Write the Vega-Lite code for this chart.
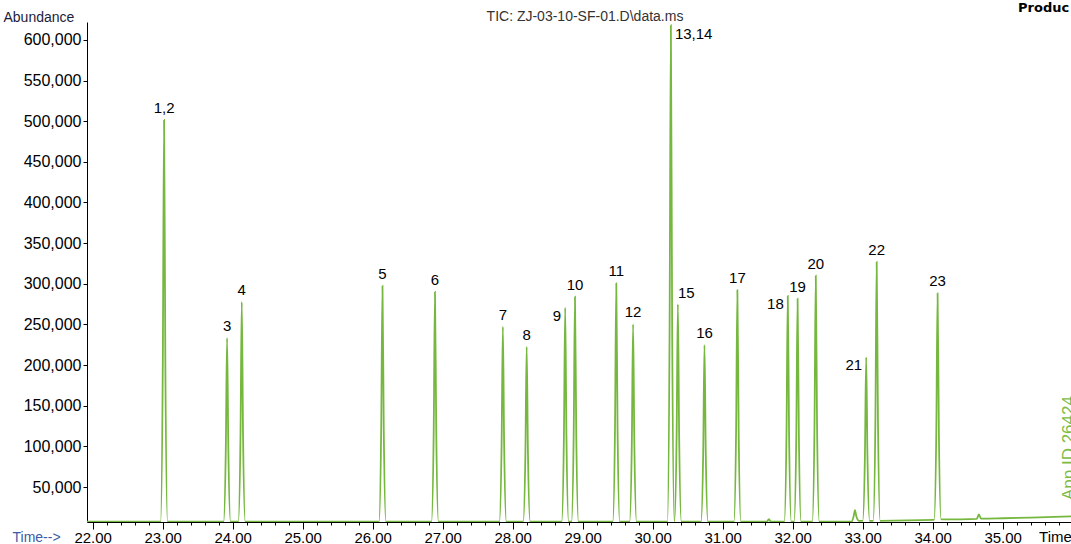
{
  "$schema": "https://vega.github.io/schema/vega-lite/v6.json",
  "width": 984,
  "height": 500,
  "autosize": {"type": "none"},
  "padding": {"left": 87, "top": 22, "right": 0, "bottom": 22},
  "background": "white",
  "config": {"view": {"stroke": null}, "font": "Liberation Sans"},
  "datasets": {
    "tic": [
      {"time": 21.92, "abundance": 7300},
      {"time": 22.97, "abundance": 7300},
      {"time": 23.002, "abundance": 205000},
      {"time": 23.02, "abundance": 501500},
      {"time": 23.038, "abundance": 205000},
      {"time": 23.07, "abundance": 7300},
      {"time": 23.87, "abundance": 7300},
      {"time": 23.902, "abundance": 97700},
      {"time": 23.92, "abundance": 233300},
      {"time": 23.938, "abundance": 97700},
      {"time": 23.97, "abundance": 7300},
      {"time": 24.08, "abundance": 7300},
      {"time": 24.112, "abundance": 115400},
      {"time": 24.13, "abundance": 277600},
      {"time": 24.148, "abundance": 115400},
      {"time": 24.18, "abundance": 7300},
      {"time": 26.09, "abundance": 7300},
      {"time": 26.122, "abundance": 123300},
      {"time": 26.14, "abundance": 297300},
      {"time": 26.158, "abundance": 123300},
      {"time": 26.19, "abundance": 7300},
      {"time": 26.84, "abundance": 7300},
      {"time": 26.872, "abundance": 120300},
      {"time": 26.89, "abundance": 289900},
      {"time": 26.908, "abundance": 120300},
      {"time": 26.94, "abundance": 7300},
      {"time": 27.81, "abundance": 7300},
      {"time": 27.842, "abundance": 103300},
      {"time": 27.86, "abundance": 247200},
      {"time": 27.878, "abundance": 103300},
      {"time": 27.91, "abundance": 7300},
      {"time": 28.15, "abundance": 7300},
      {"time": 28.182, "abundance": 93400},
      {"time": 28.2, "abundance": 222600},
      {"time": 28.218, "abundance": 93400},
      {"time": 28.25, "abundance": 7300},
      {"time": 28.7, "abundance": 7300},
      {"time": 28.732, "abundance": 112600},
      {"time": 28.75, "abundance": 270600},
      {"time": 28.768, "abundance": 112600},
      {"time": 28.8, "abundance": 7300},
      {"time": 28.84, "abundance": 7300},
      {"time": 28.872, "abundance": 118000},
      {"time": 28.89, "abundance": 284100},
      {"time": 28.908, "abundance": 118000},
      {"time": 28.94, "abundance": 7300},
      {"time": 29.43, "abundance": 7300},
      {"time": 29.462, "abundance": 124600},
      {"time": 29.48, "abundance": 300600},
      {"time": 29.498, "abundance": 124600},
      {"time": 29.53, "abundance": 7300},
      {"time": 29.67, "abundance": 7300},
      {"time": 29.702, "abundance": 104400},
      {"time": 29.72, "abundance": 250100},
      {"time": 29.738, "abundance": 104400},
      {"time": 29.77, "abundance": 7300},
      {"time": 30.21, "abundance": 7300},
      {"time": 30.242, "abundance": 251600},
      {"time": 30.26, "abundance": 618000},
      {"time": 30.278, "abundance": 251600},
      {"time": 30.31, "abundance": 7400},
      {"time": 30.342, "abundance": 114300},
      {"time": 30.36, "abundance": 274700},
      {"time": 30.378, "abundance": 114300},
      {"time": 30.41, "abundance": 7300},
      {"time": 30.69, "abundance": 7300},
      {"time": 30.722, "abundance": 94300},
      {"time": 30.74, "abundance": 224700},
      {"time": 30.758, "abundance": 94300},
      {"time": 30.79, "abundance": 7300},
      {"time": 31.16, "abundance": 7300},
      {"time": 31.192, "abundance": 121300},
      {"time": 31.21, "abundance": 292300},
      {"time": 31.228, "abundance": 121300},
      {"time": 31.26, "abundance": 7300},
      {"time": 31.63, "abundance": 7300},
      {"time": 31.66, "abundance": 10500},
      {"time": 31.69, "abundance": 7300},
      {"time": 31.88, "abundance": 7300},
      {"time": 31.912, "abundance": 118400},
      {"time": 31.93, "abundance": 285000},
      {"time": 31.948, "abundance": 118400},
      {"time": 31.98, "abundance": 7300},
      {"time": 32.02, "abundance": 7300},
      {"time": 32.052, "abundance": 117000},
      {"time": 32.07, "abundance": 281600},
      {"time": 32.088, "abundance": 117000},
      {"time": 32.12, "abundance": 7300},
      {"time": 32.28, "abundance": 7300},
      {"time": 32.312, "abundance": 128300},
      {"time": 32.33, "abundance": 309900},
      {"time": 32.348, "abundance": 128300},
      {"time": 32.38, "abundance": 7300},
      {"time": 32.84, "abundance": 7300},
      {"time": 32.872, "abundance": 14500},
      {"time": 32.89, "abundance": 21700},
      {"time": 32.908, "abundance": 14500},
      {"time": 32.95, "abundance": 8500},
      {"time": 33.0, "abundance": 8500},
      {"time": 33.032, "abundance": 88900},
      {"time": 33.05, "abundance": 209500},
      {"time": 33.068, "abundance": 88900},
      {"time": 33.1, "abundance": 8500},
      {"time": 33.15, "abundance": 8500},
      {"time": 33.182, "abundance": 135800},
      {"time": 33.2, "abundance": 326800},
      {"time": 33.218, "abundance": 135800},
      {"time": 33.25, "abundance": 8500},
      {"time": 34.02, "abundance": 9500},
      {"time": 34.052, "abundance": 121000},
      {"time": 34.07, "abundance": 288300},
      {"time": 34.088, "abundance": 121000},
      {"time": 34.12, "abundance": 10200},
      {"time": 34.4, "abundance": 10300},
      {"time": 34.63, "abundance": 10800},
      {"time": 34.66, "abundance": 16400},
      {"time": 34.69, "abundance": 11200},
      {"time": 35.0, "abundance": 11600},
      {"time": 35.4, "abundance": 12400},
      {"time": 35.976, "abundance": 14000}
    ],
    "peaks": [
      {"label": "1,2", "time": 23.02, "abundance": 501500},
      {"label": "3", "time": 23.92, "abundance": 233300},
      {"label": "4", "time": 24.13, "abundance": 277600},
      {"label": "5", "time": 26.14, "abundance": 297300},
      {"label": "6", "time": 26.89, "abundance": 289900},
      {"label": "7", "time": 27.86, "abundance": 247200},
      {"label": "8", "time": 28.2, "abundance": 222600},
      {"label": "9", "time": 28.75, "abundance": 270600},
      {"label": "10", "time": 28.89, "abundance": 284100},
      {"label": "11", "time": 29.48, "abundance": 300600},
      {"label": "12", "time": 29.72, "abundance": 250100},
      {"label": "13,14", "time": 30.26, "abundance": 618000},
      {"label": "15", "time": 30.36, "abundance": 274700},
      {"label": "16", "time": 30.74, "abundance": 224700},
      {"label": "17", "time": 31.21, "abundance": 292300},
      {"label": "18", "time": 31.93, "abundance": 285000},
      {"label": "19", "time": 32.07, "abundance": 281600},
      {"label": "20", "time": 32.33, "abundance": 309900},
      {"label": "21", "time": 33.05, "abundance": 209500},
      {"label": "22", "time": 33.2, "abundance": 326800},
      {"label": "23", "time": 34.07, "abundance": 288300}
    ]
  },
  "resolve": {"axis": {"x": "independent", "y": "independent"}},
  "layer": [
    {
      "data": {"name": "tic"},
      "mark": {"type": "line", "color": "#76b83f", "strokeWidth": 1.8, "interpolate": "monotone", "clip": true},
      "encoding": {
        "x": {"field": "time", "type": "quantitative", "scale": {"domain": [21.919, 35.976], "nice": false, "zero": false},
          "axis": {"orient": "bottom", "values": [22, 23, 24, 25, 26, 27, 28, 29, 30, 31, 32, 33, 34, 35], "format": ".2f", "grid": false,
            "labelFont": "Liberation Sans", "labelFontSize": 15, "labelColor": "#000000", "labelPadding": 1, "labelFlush": false, "labelOverlap": false,
            "tickSize": 7, "tickColor": "#000000", "domainColor": "#000000",
            "title": "Time-->", "titleX": -75, "titleY": 15, "titleAlign": "left", "titleBaseline": "middle", "titleFontSize": 14, "titleFontWeight": "normal", "titleColor": "#3a5ca8", "titleFont": "Liberation Sans"}},
        "y": {"field": "abundance", "type": "quantitative", "scale": {"domain": [7000, 622000], "nice": false, "zero": false},
          "axis": {"orient": "left", "values": [50000, 100000, 150000, 200000, 250000, 300000, 350000, 400000, 450000, 500000, 550000, 600000], "format": ",d", "grid": false,
            "labelFont": "Liberation Sans", "labelFontSize": 16, "labelColor": "#000000", "labelPadding": 2, "labelFlush": false, "labelOverlap": false,
            "tickSize": 4, "tickColor": "#000000", "domainColor": "#000000",
            "title": "Abundance", "titleAngle": 0, "titleX": -84, "titleY": -5, "titleAlign": "left", "titleBaseline": "middle", "titleFontSize": 14, "titleFontWeight": "normal", "titleColor": "#1c1c3c", "titleFont": "Liberation Sans"}}
      }
    },
    {
      "data": {"name": "peaks"},
      "transform": [{"filter": "indexof(['9','18','21','13,14','15'], datum.label) < 0"}],
      "mark": {"type": "text", "align": "center", "baseline": "middle", "dy": -12, "fontSize": 15, "color": "#000000", "font": "Liberation Sans"},
      "encoding": {
        "x": {"field": "time", "type": "quantitative",
          "axis": {"orient": "bottom", "values": [22.2, 22.4, 22.6, 22.8, 23.2, 23.4, 23.6, 23.8, 24.2, 24.4, 24.6, 24.8, 25.2, 25.4, 25.6, 25.8, 26.2, 26.4, 26.6, 26.8, 27.2, 27.4, 27.6, 27.8, 28.2, 28.4, 28.6, 28.8, 29.2, 29.4, 29.6, 29.8, 30.2, 30.4, 30.6, 30.8, 31.2, 31.4, 31.6, 31.8, 32.2, 32.4, 32.6, 32.8, 33.2, 33.4, 33.6, 33.8, 34.2, 34.4, 34.6, 34.8, 35.2, 35.4, 35.6, 35.8], "labels": false, "domain": false, "grid": false, "tickSize": 3, "tickColor": "#000000", "title": null}},
        "y": {"field": "abundance", "type": "quantitative", "axis": null},
        "text": {"field": "label"}
      }
    },
    {
      "data": {"name": "peaks"},
      "transform": [{"filter": "indexof(['9','18','21'], datum.label) >= 0"}],
      "mark": {"type": "text", "align": "right", "baseline": "middle", "dx": -4, "dy": 8, "fontSize": 15, "color": "#000000", "font": "Liberation Sans"},
      "encoding": {
        "x": {"field": "time", "type": "quantitative", "axis": null},
        "y": {"field": "abundance", "type": "quantitative", "axis": null},
        "text": {"field": "label"}
      }
    },
    {
      "data": {"name": "peaks"},
      "transform": [{"filter": "datum.label == '13,14'"}],
      "mark": {"type": "text", "align": "left", "baseline": "middle", "dx": 4, "dy": 9, "fontSize": 15, "color": "#000000", "font": "Liberation Sans"},
      "encoding": {
        "x": {"field": "time", "type": "quantitative", "axis": null},
        "y": {"field": "abundance", "type": "quantitative", "axis": null},
        "text": {"field": "label"}
      }
    },
    {
      "data": {"name": "peaks"},
      "transform": [{"filter": "datum.label == '15'"}],
      "mark": {"type": "text", "align": "left", "baseline": "middle", "dx": 0, "dy": -11, "fontSize": 15, "color": "#000000", "font": "Liberation Sans"},
      "encoding": {
        "x": {"field": "time", "type": "quantitative", "axis": null},
        "y": {"field": "abundance", "type": "quantitative", "axis": null},
        "text": {"field": "label"}
      }
    },
    {
      "data": {"values": [{}]},
      "mark": {"type": "text", "align": "center", "baseline": "middle", "fontSize": 14, "color": "#333333", "font": "Liberation Sans"},
      "encoding": {
        "x": {"datum": 29.033, "type": "quantitative", "axis": null},
        "y": {"datum": 628150, "type": "quantitative", "axis": null},
        "text": {"value": "TIC: ZJ-03-10-SF-01.D\\data.ms"}
      }
    },
    {
      "data": {"values": [{}]},
      "mark": {"type": "text", "align": "left", "baseline": "middle", "fontSize": 15, "color": "#000000", "font": "Liberation Sans"},
      "encoding": {
        "x": {"datum": 35.52, "type": "quantitative", "axis": null},
        "y": {"datum": -11450, "type": "quantitative", "axis": null},
        "text": {"value": "Time"}
      }
    },
    {
      "data": {"values": [{}]},
      "mark": {"type": "text", "align": "left", "baseline": "middle", "fontSize": 13, "fontWeight": "bold", "color": "#000000", "font": "DejaVu Sans"},
      "encoding": {
        "x": {"datum": 35.22, "type": "quantitative", "axis": null},
        "y": {"datum": 639200, "type": "quantitative", "axis": null},
        "text": {"value": "Produc"}
      }
    },
    {
      "data": {"values": [{}]},
      "mark": {"type": "text", "align": "left", "baseline": "alphabetic", "angle": 270, "fontSize": 17, "color": "#7cbb44", "font": "Liberation Sans"},
      "encoding": {
        "x": {"datum": 36.019, "type": "quantitative", "axis": null},
        "y": {"datum": 34000, "type": "quantitative", "axis": null},
        "text": {"value": "App ID 26424"}
      }
    }
  ]
}
